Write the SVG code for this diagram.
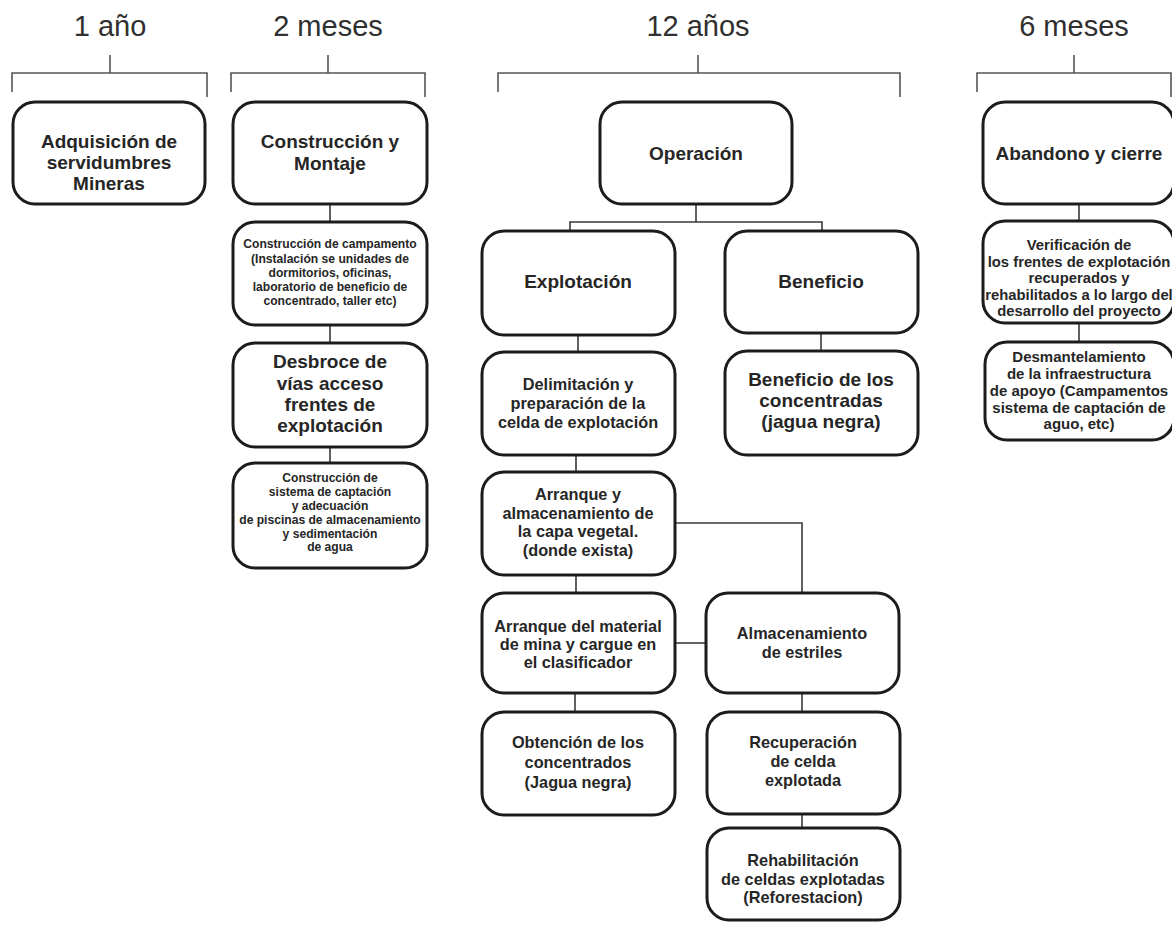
<svg xmlns="http://www.w3.org/2000/svg" width="1172" height="926" viewBox="0 0 1172 926">
<style>
.bg{fill:#ffffff}
.box{fill:#ffffff;stroke:#1c1c1c;stroke-width:3}
.br{fill:none;stroke:#555555;stroke-width:1.6}
.cn{fill:none;stroke:#3a3a3a;stroke-width:1.6}
.hd{font-family:"Liberation Sans",Arial,sans-serif;font-size:29px;fill:#303030;text-anchor:middle}
.t{font-family:"Liberation Sans",Arial,sans-serif;font-weight:bold;fill:#262626;text-anchor:middle}
.f19{font-size:19px}
.f16{font-size:16.3px}
.f15{font-size:15px}
.f148{font-size:14.8px}
.f12{font-size:12.1px}
</style>
<rect class="bg" x="0" y="0" width="1172" height="926"/>

<g id="headers">
<text class="hd" x="110" y="36">1 año</text>
<text class="hd" x="328" y="36">2 meses</text>
<text class="hd" x="698" y="36">12 años</text>
<text class="hd" x="1074" y="36">6 meses</text>
</g>

<g id="brackets">
<path class="br" d="M110 55V73M12 92V73H207V97"/>
<path class="br" d="M328 55V73M231 92V73H425V97"/>
<path class="br" d="M698 55V73M498 92V73H900V97"/>
<path class="br" d="M1074 55V73M977 92V73H1171V97"/>
</g>

<g id="connectors">
<path class="cn" d="M330 204V222M330 325V343M330 447V463"/>
<path class="cn" d="M696 204V222M570 231V222H822V231"/>
<path class="cn" d="M578 335V352M576 455V472M576 575V593M575 693V712"/>
<path class="cn" d="M821 333V351"/>
<path class="cn" d="M675 523H802V593"/>
<path class="cn" d="M675 643H706"/>
<path class="cn" d="M802 693V712M802 814V828"/>
<path class="cn" d="M1079 204V221M1079 323V342"/>
</g>

<g id="n-adquisicion">
<rect class="box" x="13" y="102" width="192" height="102" rx="22"/>
<text class="t f19" x="109"><tspan x="109" y="148">Adquisición de</tspan><tspan x="109" y="169">servidumbres</tspan><tspan x="109" y="190">Mineras</tspan></text>
</g>

<g id="n-construccion">
<rect class="box" x="233" y="102" width="194" height="102" rx="22"/>
<text class="t f19" x="330"><tspan x="330" y="148">Construcción y</tspan><tspan x="330" y="170">Montaje</tspan></text>
</g>

<g id="n-campamento">
<rect class="box" x="233" y="222" width="194" height="103" rx="22"/>
<text class="t f12" x="330"><tspan x="330" y="248">Construcción de campamento</tspan><tspan x="330" y="262.5">(Instalación se unidades de</tspan><tspan x="330" y="277">dormitorios, oficinas,</tspan><tspan x="330" y="291">laboratorio de beneficio de</tspan><tspan x="330" y="305">concentrado, taller etc)</tspan></text>
</g>

<g id="n-desbroce">
<rect class="box" x="233" y="343" width="194" height="104" rx="22"/>
<text class="t f19" x="330"><tspan x="330" y="368">Desbroce de</tspan><tspan x="330" y="390">vías acceso</tspan><tspan x="330" y="411">frentes de</tspan><tspan x="330" y="432">explotación</tspan></text>
</g>

<g id="n-sistema">
<rect class="box" x="233" y="463" width="194" height="105" rx="22"/>
<text class="t f12" x="330"><tspan x="330" y="482">Construcción de</tspan><tspan x="330" y="496">sistema de captación</tspan><tspan x="330" y="510">y adecuación</tspan><tspan x="330" y="524">de piscinas de almacenamiento</tspan><tspan x="330" y="537.5">y sedimentación</tspan><tspan x="330" y="551">de agua</tspan></text>
</g>

<g id="n-operacion">
<rect class="box" x="600" y="102" width="192" height="102" rx="22"/>
<text class="t f19" x="696" y="160">Operación</text>
</g>

<g id="n-explotacion">
<rect class="box" x="482" y="231" width="193" height="104" rx="22"/>
<text class="t f19" x="578" y="288">Explotación</text>
</g>

<g id="n-beneficio">
<rect class="box" x="725" y="231" width="193" height="102" rx="22"/>
<text class="t f19" x="821" y="288">Beneficio</text>
</g>

<g id="n-delimitacion">
<rect class="box" x="482" y="352" width="193" height="103" rx="22"/>
<text class="t f16" x="578"><tspan x="578" y="390">Delimitación y</tspan><tspan x="578" y="409">preparación de la</tspan><tspan x="578" y="428">celda de explotación</tspan></text>
</g>

<g id="n-beneficio-conc">
<rect class="box" x="725" y="351" width="193" height="104" rx="22"/>
<text class="t f19" x="821"><tspan x="821" y="386">Beneficio de los</tspan><tspan x="821" y="407">concentradas</tspan><tspan x="821" y="428">(jagua negra)</tspan></text>
</g>

<g id="n-arranque-capa">
<rect class="box" x="482" y="472" width="193" height="103" rx="22"/>
<text class="t f16" x="578"><tspan x="578" y="500">Arranque y</tspan><tspan x="578" y="518.5">almacenamiento de</tspan><tspan x="578" y="537">la capa vegetal.</tspan><tspan x="578" y="556">(donde exista)</tspan></text>
</g>

<g id="n-arranque-material">
<rect class="box" x="482" y="593" width="193" height="100" rx="22"/>
<text class="t f16" x="578"><tspan x="578" y="632">Arranque del material</tspan><tspan x="578" y="650">de mina y cargue en</tspan><tspan x="578" y="668">el clasificador</tspan></text>
</g>

<g id="n-almacenamiento">
<rect class="box" x="706" y="593" width="193" height="100" rx="22"/>
<text class="t f16" x="802"><tspan x="802" y="639">Almacenamiento</tspan><tspan x="802" y="658">de estriles</tspan></text>
</g>

<g id="n-obtencion">
<rect class="box" x="482" y="712" width="193" height="103" rx="22"/>
<text class="t f16" x="578"><tspan x="578" y="748">Obtención de los</tspan><tspan x="578" y="768">concentrados</tspan><tspan x="578" y="788">(Jagua negra)</tspan></text>
</g>

<g id="n-recuperacion">
<rect class="box" x="707" y="712" width="193" height="102" rx="22"/>
<text class="t f16" x="803"><tspan x="803" y="748">Recuperación</tspan><tspan x="803" y="767">de celda</tspan><tspan x="803" y="786">explotada</tspan></text>
</g>

<g id="n-rehabilitacion">
<rect class="box" x="707" y="828" width="193" height="92" rx="22"/>
<text class="t f16" x="803"><tspan x="803" y="866">Rehabilitación</tspan><tspan x="803" y="884.5">de celdas explotadas</tspan><tspan x="803" y="903">(Reforestacion)</tspan></text>
</g>

<g id="n-abandono">
<rect class="box" x="983" y="102" width="191" height="102" rx="22"/>
<text class="t f19" x="1079" y="160">Abandono y cierre</text>
</g>

<g id="n-verificacion">
<rect class="box" x="983" y="221" width="191" height="102" rx="22"/>
<text class="t f148" x="1079"><tspan x="1079" y="250">Verificación de</tspan><tspan x="1079" y="267">los frentes de explotación</tspan><tspan x="1079" y="283">recuperados y</tspan><tspan x="1079" y="300">rehabilitados a lo largo del</tspan><tspan x="1079" y="316">desarrollo del proyecto</tspan></text>
</g>

<g id="n-desmantelamiento">
<rect class="box" x="985" y="342" width="189" height="98" rx="22"/>
<text class="t f15" x="1079"><tspan x="1079" y="362">Desmantelamiento</tspan><tspan x="1079" y="379">de la infraestructura</tspan><tspan x="1079" y="396">de apoyo (Campamentos</tspan><tspan x="1079" y="413">sistema de captación de</tspan><tspan x="1079" y="429">aguo, etc)</tspan></text>
</g>
</svg>
